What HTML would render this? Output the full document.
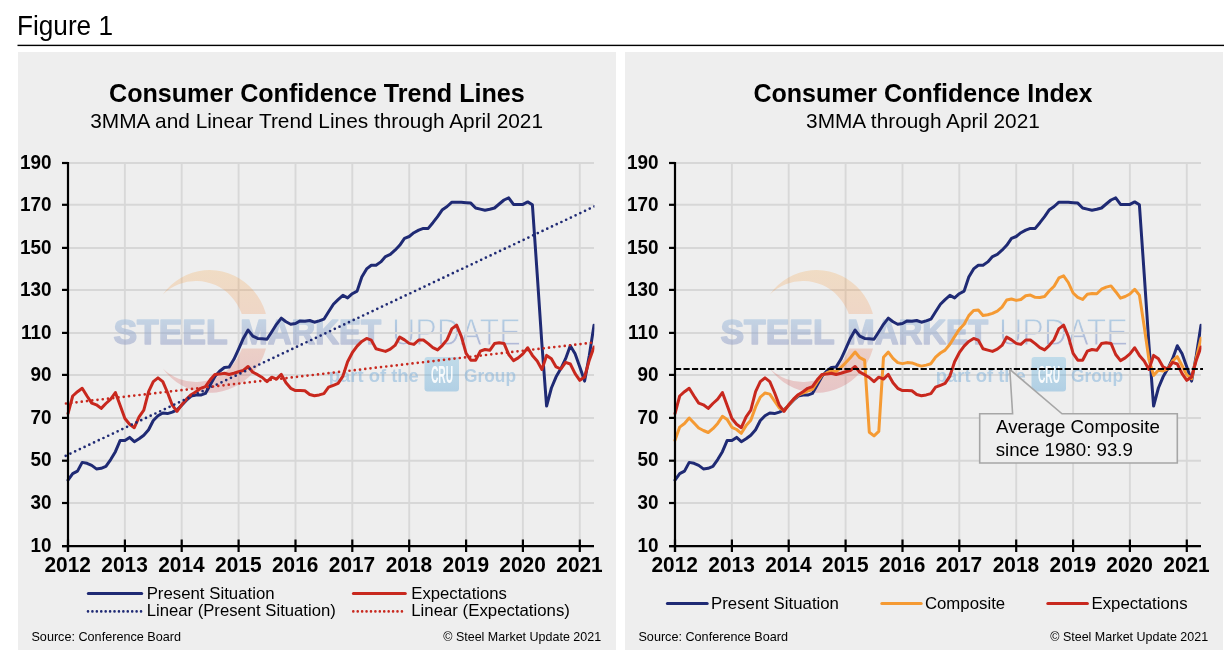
<!DOCTYPE html>
<html lang="en"><head><meta charset="utf-8"><title>Figure 1 - Consumer Confidence</title>
<style>html,body{margin:0;padding:0;background:#fff;}body{width:1230px;height:658px;overflow:hidden;}svg{display:block;}text{font-family:"Liberation Sans", Arial, sans-serif;}</style></head><body>
<svg width="1230" height="658" viewBox="0 0 1230 658">
<defs>
<linearGradient id="gs" x1="0" y1="0" x2="0" y2="1"><stop offset="0" stop-color="#f7941d"/><stop offset="0.45" stop-color="#f0702a"/><stop offset="1" stop-color="#c8202a"/></linearGradient>
<linearGradient id="gu" x1="0" y1="0" x2="0" y2="1"><stop offset="0.1" stop-color="#8fc0e0"/><stop offset="0.95" stop-color="#8a8fc4"/></linearGradient>
<linearGradient id="gc" x1="0" y1="0" x2="0" y2="1"><stop offset="0" stop-color="#7fc0e2"/><stop offset="1" stop-color="#5aa4d6"/></linearGradient>
<linearGradient id="gt" x1="0" y1="0" x2="0" y2="1"><stop offset="0.1" stop-color="#9cbfdf"/><stop offset="0.95" stop-color="#8e95c0"/></linearGradient>
<clipPath id="pc"><rect x="60" y="150" width="534.4" height="400"/></clipPath>
<clipPath id="cc"><rect x="150" y="260" width="130" height="54.1"/><rect x="150" y="348.6" width="130" height="60"/></clipPath>
</defs>
<text transform="translate(16.95,35.00) scale(0.9527,1)" font-size="27.5">Figure 1</text>
<rect x="17.5" y="44.7" width="1206.5" height="1.4" fill="#000"/>
<rect x="18" y="52" width="598" height="598" fill="#eeeeee"/>
<rect x="625" y="52" width="598" height="598" fill="#eeeeee"/>
<g id="left">
<text transform="translate(391.88,344.90) scale(0.8708,1)" font-size="37.2" fill="url(#gu)" fill-opacity="0.62" stroke="#eeeeee" stroke-width="1">UPDATE</text>
<g>
<line x1="124.9" y1="163" x2="124.9" y2="546" stroke="#d8d8d8" stroke-width="1.9"/>
<line x1="181.7" y1="163" x2="181.7" y2="546" stroke="#d8d8d8" stroke-width="1.9"/>
<line x1="238.6" y1="163" x2="238.6" y2="546" stroke="#d8d8d8" stroke-width="1.9"/>
<line x1="295.5" y1="163" x2="295.5" y2="546" stroke="#d8d8d8" stroke-width="1.9"/>
<line x1="352.3" y1="163" x2="352.3" y2="546" stroke="#d8d8d8" stroke-width="1.9"/>
<line x1="409.2" y1="163" x2="409.2" y2="546" stroke="#d8d8d8" stroke-width="1.9"/>
<line x1="466.1" y1="163" x2="466.1" y2="546" stroke="#d8d8d8" stroke-width="1.9"/>
<line x1="522.9" y1="163" x2="522.9" y2="546" stroke="#d8d8d8" stroke-width="1.9"/>
<line x1="579.8" y1="163" x2="579.8" y2="546" stroke="#d8d8d8" stroke-width="1.9"/>
<line x1="68" y1="503.0" x2="594" y2="503.0" stroke="#d7d7d7" stroke-width="2"/>
<line x1="68" y1="460.7" x2="594" y2="460.7" stroke="#d7d7d7" stroke-width="2"/>
<line x1="68" y1="417.9" x2="594" y2="417.9" stroke="#d7d7d7" stroke-width="2"/>
<line x1="68" y1="374.9" x2="594" y2="374.9" stroke="#d7d7d7" stroke-width="2"/>
<line x1="68" y1="332.9" x2="594" y2="332.9" stroke="#d7d7d7" stroke-width="2"/>
<line x1="68" y1="289.9" x2="594" y2="289.9" stroke="#d7d7d7" stroke-width="2"/>
<line x1="68" y1="247.9" x2="594" y2="247.9" stroke="#d7d7d7" stroke-width="2"/>
<line x1="68" y1="204.8" x2="594" y2="204.8" stroke="#d7d7d7" stroke-width="2"/>
<line x1="68" y1="163.0" x2="594" y2="163.0" stroke="#d7d7d7" stroke-width="2"/>
</g>
<g>
<path clip-path="url(#cc)" d="M162.8,294.4 A58.7,61.4 0 1 1 162.8,368.4 A48.75,50.5 0 1 0 162.8,294.4 Z" fill="url(#gs)" opacity="0.2"/>
<text transform="translate(113.45,344.10) scale(0.9895,1)" font-size="35.8" font-weight="bold" fill="url(#gt)" stroke="url(#gt)" stroke-width="1.6" stroke-linejoin="round" opacity="0.5">STEEL</text>
<text transform="translate(240.24,344.10) scale(0.9195,1)" font-size="35.8" font-weight="bold" fill="url(#gt)" stroke="url(#gt)" stroke-width="1.6" stroke-linejoin="round" opacity="0.5">MARKET</text>
<text transform="translate(328.84,381.50) scale(1.0522,1)" font-size="17.5" font-weight="bold" fill="#6fa8d8" opacity="0.44">part of the</text>
<rect x="424.5" y="357" width="34.5" height="34.5" rx="3" fill="url(#gc)" opacity="0.41"/>
<text transform="translate(430.90,382.50) scale(0.4394,1)" font-size="23.3" font-weight="bold" fill="#ffffff" opacity="0.9">CRU</text>
<text transform="translate(464.01,381.50) scale(0.9902,1)" font-size="17.5" font-weight="bold" fill="#6fa8d8" opacity="0.44">Group</text>
</g>
<text transform="translate(109.00,101.60) scale(1.0050,1)" font-size="25" font-weight="bold">Consumer Confidence Trend Lines</text>
<text transform="translate(90.29,127.60) scale(1.0167,1)" font-size="20.5">3MMA and Linear Trend Lines through April 2021</text>
<polyline points="68.0,480.2 72.7,473.6 77.5,471.1 82.2,462.4 87.0,463.3 91.7,465.4 96.4,468.9 101.2,468.3 105.9,466.4 110.7,459.6 115.4,451.7 120.1,440.6 124.9,440.4 129.6,437.4 134.3,441.7 139.1,438.7 143.8,435.2 148.6,429.7 153.3,420.5 158.0,415.8 162.8,413.0 167.5,413.6 172.3,412.1 177.0,409.9 181.7,405.2 186.5,400.1 191.2,396.0 196.0,395.1 200.7,395.1 205.4,393.4 210.2,385.0 214.9,376.6 219.6,371.3 224.4,367.5 229.1,367.1 233.9,359.3 238.6,349.1 243.3,338.4 248.1,330.1 252.8,336.1 257.6,338.4 262.3,338.8 267.0,339.2 271.8,331.8 276.5,324.3 281.3,318.1 286.0,321.8 290.7,324.3 295.5,323.5 300.2,320.9 304.9,321.3 309.7,320.5 314.4,322.2 319.2,320.9 323.9,319.2 328.6,311.7 333.4,304.3 338.1,299.6 342.9,295.4 347.6,297.9 352.3,293.7 357.1,291.1 361.8,277.0 366.6,268.9 371.3,265.3 376.0,265.3 380.8,261.9 385.5,256.6 390.3,254.4 395.0,250.2 399.7,245.3 404.5,238.4 409.2,236.5 413.9,232.7 418.7,230.1 423.4,228.4 428.2,228.4 432.9,222.7 437.6,216.7 442.4,209.7 447.1,206.5 451.9,202.2 456.6,202.2 461.3,202.2 466.1,202.7 470.8,203.1 475.6,208.0 480.3,209.1 485.0,210.2 489.8,209.3 494.5,208.0 499.2,204.0 504.0,200.0 508.7,197.9 513.5,204.4 518.2,204.4 522.9,204.4 527.7,201.9 532.4,204.8 537.2,274.1 541.9,344.0 546.6,406.1 551.4,388.0 556.1,376.8 560.9,368.6 565.6,358.7 570.3,345.7 575.1,353.7 579.8,366.9 584.6,381.1 589.3,355.4 594.0,325.2" fill="none" stroke="#1f2a74" stroke-width="3" stroke-linejoin="round" stroke-linecap="round" clip-path="url(#pc)"/>
<polyline points="68.0,413.6 72.7,396.0 77.5,391.7 82.2,388.3 87.0,396.0 91.7,403.1 96.4,404.8 101.2,408.4 105.9,403.5 110.7,399.2 115.4,392.5 120.1,405.2 124.9,418.5 129.6,424.3 134.3,427.7 139.1,416.8 143.8,410.2 148.6,391.7 153.3,381.6 158.0,377.9 162.8,381.6 167.5,392.5 172.3,405.2 177.0,411.4 181.7,404.8 186.5,399.2 191.2,394.7 196.0,391.7 200.7,388.3 205.4,386.7 210.2,379.8 214.9,374.5 219.6,374.1 224.4,373.2 229.1,374.5 233.9,373.2 238.6,371.8 243.3,370.5 248.1,366.5 252.8,372.2 257.6,374.7 262.3,377.5 267.0,381.7 271.8,377.2 276.5,379.1 281.3,374.4 286.0,382.7 290.7,388.3 295.5,390.6 300.2,390.6 304.9,390.8 309.7,394.5 314.4,395.7 319.2,394.9 323.9,393.6 328.6,387.2 333.4,385.3 338.1,383.4 342.9,376.1 347.6,361.8 352.3,352.7 357.1,346.1 361.8,341.4 366.6,338.4 371.3,340.1 376.0,348.8 380.8,350.1 385.5,351.4 390.3,349.1 395.0,345.4 399.7,337.1 404.5,339.9 409.2,343.4 413.9,344.4 418.7,340.0 423.4,340.0 428.2,343.6 432.9,347.6 437.6,349.9 442.4,345.3 447.1,339.6 451.9,328.6 456.6,325.2 461.3,336.3 466.1,353.3 470.8,360.2 475.6,360.2 480.3,351.2 485.0,349.5 489.8,350.3 494.5,343.6 499.2,342.8 504.0,343.4 508.7,354.5 513.5,360.6 518.2,357.9 522.9,353.9 527.7,347.8 532.4,355.4 537.2,361.0 541.9,369.4 546.6,355.4 551.4,358.7 556.1,366.9 560.9,369.0 565.6,362.3 570.3,364.0 575.1,373.6 579.8,380.3 584.6,377.0 589.3,360.2 594.0,347.0" fill="none" stroke="#c8281e" stroke-width="3" stroke-linejoin="round" stroke-linecap="round" clip-path="url(#pc)"/>
<line x1="65.7" y1="455.8" x2="597" y2="205.2" stroke="#1f2a74" stroke-width="2.7" stroke-linecap="round" stroke-dasharray="0 5.22" clip-path="url(#pc)"/>
<line x1="66" y1="403.5" x2="594" y2="342.5" stroke="#c8281e" stroke-width="2.7" stroke-linecap="round" stroke-dasharray="0 5.285"/>
<g>
<line x1="68" y1="162" x2="68" y2="552" stroke="#000" stroke-width="2.2"/>
<line x1="62" y1="546.1" x2="594" y2="546.1" stroke="#000" stroke-width="2.2"/>
<line x1="62" y1="546.1" x2="68" y2="546.1" stroke="#000" stroke-width="2.2"/>
<text transform="translate(51.5,551.8) scale(0.955,1)" font-size="19.8" font-weight="bold" text-anchor="end">10</text>
<line x1="62" y1="503.0" x2="68" y2="503.0" stroke="#000" stroke-width="2.2"/>
<text transform="translate(51.5,508.7) scale(0.955,1)" font-size="19.8" font-weight="bold" text-anchor="end">30</text>
<line x1="62" y1="460.7" x2="68" y2="460.7" stroke="#000" stroke-width="2.2"/>
<text transform="translate(51.5,466.4) scale(0.955,1)" font-size="19.8" font-weight="bold" text-anchor="end">50</text>
<line x1="62" y1="417.9" x2="68" y2="417.9" stroke="#000" stroke-width="2.2"/>
<text transform="translate(51.5,423.6) scale(0.955,1)" font-size="19.8" font-weight="bold" text-anchor="end">70</text>
<line x1="62" y1="374.9" x2="68" y2="374.9" stroke="#000" stroke-width="2.2"/>
<text transform="translate(51.5,380.6) scale(0.955,1)" font-size="19.8" font-weight="bold" text-anchor="end">90</text>
<line x1="62" y1="332.9" x2="68" y2="332.9" stroke="#000" stroke-width="2.2"/>
<text transform="translate(51.5,338.6) scale(0.955,1)" font-size="19.8" font-weight="bold" text-anchor="end">110</text>
<line x1="62" y1="289.9" x2="68" y2="289.9" stroke="#000" stroke-width="2.2"/>
<text transform="translate(51.5,295.6) scale(0.955,1)" font-size="19.8" font-weight="bold" text-anchor="end">130</text>
<line x1="62" y1="247.9" x2="68" y2="247.9" stroke="#000" stroke-width="2.2"/>
<text transform="translate(51.5,253.6) scale(0.955,1)" font-size="19.8" font-weight="bold" text-anchor="end">150</text>
<line x1="62" y1="204.8" x2="68" y2="204.8" stroke="#000" stroke-width="2.2"/>
<text transform="translate(51.5,210.5) scale(0.955,1)" font-size="19.8" font-weight="bold" text-anchor="end">170</text>
<line x1="62" y1="163.0" x2="68" y2="163.0" stroke="#000" stroke-width="2.2"/>
<text transform="translate(51.5,168.7) scale(0.955,1)" font-size="19.8" font-weight="bold" text-anchor="end">190</text>
<line x1="68.0" y1="539.5" x2="68.0" y2="552" stroke="#000" stroke-width="2.2"/>
<text transform="translate(67.7,572) scale(0.972,1)" font-size="21.5" font-weight="bold" text-anchor="middle">2012</text>
<line x1="124.9" y1="539.5" x2="124.9" y2="552" stroke="#000" stroke-width="2.2"/>
<text transform="translate(124.6,572) scale(0.972,1)" font-size="21.5" font-weight="bold" text-anchor="middle">2013</text>
<line x1="181.7" y1="539.5" x2="181.7" y2="552" stroke="#000" stroke-width="2.2"/>
<text transform="translate(181.4,572) scale(0.972,1)" font-size="21.5" font-weight="bold" text-anchor="middle">2014</text>
<line x1="238.6" y1="539.5" x2="238.6" y2="552" stroke="#000" stroke-width="2.2"/>
<text transform="translate(238.3,572) scale(0.972,1)" font-size="21.5" font-weight="bold" text-anchor="middle">2015</text>
<line x1="295.5" y1="539.5" x2="295.5" y2="552" stroke="#000" stroke-width="2.2"/>
<text transform="translate(295.2,572) scale(0.972,1)" font-size="21.5" font-weight="bold" text-anchor="middle">2016</text>
<line x1="352.3" y1="539.5" x2="352.3" y2="552" stroke="#000" stroke-width="2.2"/>
<text transform="translate(352.0,572) scale(0.972,1)" font-size="21.5" font-weight="bold" text-anchor="middle">2017</text>
<line x1="409.2" y1="539.5" x2="409.2" y2="552" stroke="#000" stroke-width="2.2"/>
<text transform="translate(408.9,572) scale(0.972,1)" font-size="21.5" font-weight="bold" text-anchor="middle">2018</text>
<line x1="466.1" y1="539.5" x2="466.1" y2="552" stroke="#000" stroke-width="2.2"/>
<text transform="translate(465.8,572) scale(0.972,1)" font-size="21.5" font-weight="bold" text-anchor="middle">2019</text>
<line x1="522.9" y1="539.5" x2="522.9" y2="552" stroke="#000" stroke-width="2.2"/>
<text transform="translate(522.6,572) scale(0.972,1)" font-size="21.5" font-weight="bold" text-anchor="middle">2020</text>
<line x1="579.8" y1="539.5" x2="579.8" y2="552" stroke="#000" stroke-width="2.2"/>
<text transform="translate(579.5,572) scale(0.972,1)" font-size="21.5" font-weight="bold" text-anchor="middle">2021</text>
</g>
<line x1="88.3" y1="593.4" x2="141.7" y2="593.4" stroke="#1f2a74" stroke-width="3" stroke-linecap="round"/>
<text transform="translate(146.66,598.60) scale(1.0306,1)" font-size="16.3">Present Situation</text>
<text transform="translate(146.67,616.00) scale(1.0241,1)" font-size="16.3">Linear (Present Situation)</text>
<text transform="translate(411.27,598.60) scale(1.0254,1)" font-size="16.3">Expectations</text>
<text transform="translate(411.26,616.00) scale(1.0303,1)" font-size="16.3">Linear (Expectations)</text>
<text transform="translate(31.43,641.00) scale(0.9433,1)" font-size="13.4">Source: Conference Board</text>
<text transform="translate(443.21,641.00) scale(0.9333,1)" font-size="13.4">© Steel Market Update 2021</text>
<line x1="88" y1="611.4" x2="141.5" y2="611.4" stroke="#1f2a74" stroke-width="2.6" stroke-linecap="round" stroke-dasharray="0 4.42"/>
<line x1="353.4" y1="593.4" x2="405.3" y2="593.4" stroke="#c8281e" stroke-width="3" stroke-linecap="round"/>
<line x1="353.3" y1="611.4" x2="402.2" y2="611.4" stroke="#c8281e" stroke-width="2.6" stroke-linecap="round" stroke-dasharray="0 4.42"/>
</g>
<g id="right">
<g transform="translate(607,0)">
<text transform="translate(391.88,344.90) scale(0.8708,1)" font-size="37.2" fill="url(#gu)" fill-opacity="0.62" stroke="#eeeeee" stroke-width="1">UPDATE</text>
<g>
<line x1="124.9" y1="163" x2="124.9" y2="546" stroke="#d8d8d8" stroke-width="1.9"/>
<line x1="181.7" y1="163" x2="181.7" y2="546" stroke="#d8d8d8" stroke-width="1.9"/>
<line x1="238.6" y1="163" x2="238.6" y2="546" stroke="#d8d8d8" stroke-width="1.9"/>
<line x1="295.5" y1="163" x2="295.5" y2="546" stroke="#d8d8d8" stroke-width="1.9"/>
<line x1="352.3" y1="163" x2="352.3" y2="546" stroke="#d8d8d8" stroke-width="1.9"/>
<line x1="409.2" y1="163" x2="409.2" y2="546" stroke="#d8d8d8" stroke-width="1.9"/>
<line x1="466.1" y1="163" x2="466.1" y2="546" stroke="#d8d8d8" stroke-width="1.9"/>
<line x1="522.9" y1="163" x2="522.9" y2="546" stroke="#d8d8d8" stroke-width="1.9"/>
<line x1="579.8" y1="163" x2="579.8" y2="546" stroke="#d8d8d8" stroke-width="1.9"/>
<line x1="68" y1="503.0" x2="594" y2="503.0" stroke="#d7d7d7" stroke-width="2"/>
<line x1="68" y1="460.7" x2="594" y2="460.7" stroke="#d7d7d7" stroke-width="2"/>
<line x1="68" y1="417.9" x2="594" y2="417.9" stroke="#d7d7d7" stroke-width="2"/>
<line x1="68" y1="374.9" x2="594" y2="374.9" stroke="#d7d7d7" stroke-width="2"/>
<line x1="68" y1="332.9" x2="594" y2="332.9" stroke="#d7d7d7" stroke-width="2"/>
<line x1="68" y1="289.9" x2="594" y2="289.9" stroke="#d7d7d7" stroke-width="2"/>
<line x1="68" y1="247.9" x2="594" y2="247.9" stroke="#d7d7d7" stroke-width="2"/>
<line x1="68" y1="204.8" x2="594" y2="204.8" stroke="#d7d7d7" stroke-width="2"/>
<line x1="68" y1="163.0" x2="594" y2="163.0" stroke="#d7d7d7" stroke-width="2"/>
</g>
<g>
<path clip-path="url(#cc)" d="M162.8,294.4 A58.7,61.4 0 1 1 162.8,368.4 A48.75,50.5 0 1 0 162.8,294.4 Z" fill="url(#gs)" opacity="0.2"/>
<text transform="translate(113.45,344.10) scale(0.9895,1)" font-size="35.8" font-weight="bold" fill="url(#gt)" stroke="url(#gt)" stroke-width="1.6" stroke-linejoin="round" opacity="0.5">STEEL</text>
<text transform="translate(240.24,344.10) scale(0.9195,1)" font-size="35.8" font-weight="bold" fill="url(#gt)" stroke="url(#gt)" stroke-width="1.6" stroke-linejoin="round" opacity="0.5">MARKET</text>
<text transform="translate(328.84,381.50) scale(1.0522,1)" font-size="17.5" font-weight="bold" fill="#6fa8d8" opacity="0.44">part of the</text>
<rect x="424.5" y="357" width="34.5" height="34.5" rx="3" fill="url(#gc)" opacity="0.41"/>
<text transform="translate(430.90,382.50) scale(0.4394,1)" font-size="23.3" font-weight="bold" fill="#ffffff" opacity="0.9">CRU</text>
<text transform="translate(464.01,381.50) scale(0.9902,1)" font-size="17.5" font-weight="bold" fill="#6fa8d8" opacity="0.44">Group</text>
</g>
<polyline points="68.0,480.2 72.7,473.6 77.5,471.1 82.2,462.4 87.0,463.3 91.7,465.4 96.4,468.9 101.2,468.3 105.9,466.4 110.7,459.6 115.4,451.7 120.1,440.6 124.9,440.4 129.6,437.4 134.3,441.7 139.1,438.7 143.8,435.2 148.6,429.7 153.3,420.5 158.0,415.8 162.8,413.0 167.5,413.6 172.3,412.1 177.0,409.9 181.7,405.2 186.5,400.1 191.2,396.0 196.0,395.1 200.7,395.1 205.4,393.4 210.2,385.0 214.9,376.6 219.6,371.3 224.4,367.5 229.1,367.1 233.9,359.3 238.6,349.1 243.3,338.4 248.1,330.1 252.8,336.1 257.6,338.4 262.3,338.8 267.0,339.2 271.8,331.8 276.5,324.3 281.3,318.1 286.0,321.8 290.7,324.3 295.5,323.5 300.2,320.9 304.9,321.3 309.7,320.5 314.4,322.2 319.2,320.9 323.9,319.2 328.6,311.7 333.4,304.3 338.1,299.6 342.9,295.4 347.6,297.9 352.3,293.7 357.1,291.1 361.8,277.0 366.6,268.9 371.3,265.3 376.0,265.3 380.8,261.9 385.5,256.6 390.3,254.4 395.0,250.2 399.7,245.3 404.5,238.4 409.2,236.5 413.9,232.7 418.7,230.1 423.4,228.4 428.2,228.4 432.9,222.7 437.6,216.7 442.4,209.7 447.1,206.5 451.9,202.2 456.6,202.2 461.3,202.2 466.1,202.7 470.8,203.1 475.6,208.0 480.3,209.1 485.0,210.2 489.8,209.3 494.5,208.0 499.2,204.0 504.0,200.0 508.7,197.9 513.5,204.4 518.2,204.4 522.9,204.4 527.7,201.9 532.4,204.8 537.2,274.1 541.9,344.0 546.6,406.1 551.4,388.0 556.1,376.8 560.9,368.6 565.6,358.7 570.3,345.7 575.1,353.7 579.8,366.9 584.6,381.1 589.3,355.4 594.0,325.2" fill="none" stroke="#1f2a74" stroke-width="3" stroke-linejoin="round" stroke-linecap="round" clip-path="url(#pc)"/>
<polyline points="68.0,440.3 72.7,427.1 77.5,423.5 82.2,418.0 87.0,423.0 91.7,428.0 96.4,430.5 101.2,432.5 105.9,428.7 110.7,423.4 115.4,416.3 120.1,419.4 124.9,427.3 129.6,429.5 134.3,433.3 139.1,425.6 143.8,420.2 148.6,406.9 153.3,397.1 158.0,393.0 162.8,394.1 167.5,401.0 172.3,408.0 177.0,410.8 181.7,405.0 186.5,399.5 191.2,395.2 196.0,393.0 200.7,391.0 205.4,389.4 210.2,381.9 214.9,375.3 219.6,373.0 224.4,371.0 229.1,371.5 233.9,367.6 238.6,362.7 243.3,357.7 248.1,352.0 252.8,357.7 257.6,360.2 262.3,432.2 267.0,435.9 271.8,431.4 276.5,357.2 281.3,352.1 286.0,358.3 290.7,362.6 295.5,363.6 300.2,362.6 304.9,362.9 309.7,364.7 314.4,366.1 319.2,365.1 323.9,363.7 328.6,357.1 333.4,353.0 338.1,350.1 342.9,344.2 347.6,336.6 352.3,329.4 357.1,324.3 361.8,315.6 366.6,310.5 371.3,310.0 376.0,315.4 380.8,314.8 385.5,313.4 390.3,311.1 395.0,307.1 399.7,300.0 404.5,299.0 409.2,300.4 413.9,299.5 418.7,295.8 423.4,295.1 428.2,297.3 432.9,297.5 437.6,296.5 442.4,290.8 447.1,286.2 451.9,277.9 456.6,275.9 461.3,282.5 466.1,293.0 470.8,297.4 475.6,299.4 480.3,294.2 485.0,293.6 489.8,293.8 494.5,289.2 499.2,287.1 504.0,285.9 508.7,291.7 513.5,298.2 518.2,296.5 522.9,294.0 527.7,289.3 532.4,295.1 537.2,326.5 541.9,359.3 546.6,375.4 551.4,370.3 556.1,370.9 560.9,368.9 565.6,360.9 570.3,356.7 575.1,365.7 579.8,374.9 584.6,378.7 589.3,358.3 594.0,338.3" fill="none" stroke="#f59a33" stroke-width="3" stroke-linejoin="round" stroke-linecap="round" clip-path="url(#pc)"/>
<polyline points="68.0,413.6 72.7,396.0 77.5,391.7 82.2,388.3 87.0,396.0 91.7,403.1 96.4,404.8 101.2,408.4 105.9,403.5 110.7,399.2 115.4,392.5 120.1,405.2 124.9,418.5 129.6,424.3 134.3,427.7 139.1,416.8 143.8,410.2 148.6,391.7 153.3,381.6 158.0,377.9 162.8,381.6 167.5,392.5 172.3,405.2 177.0,411.4 181.7,404.8 186.5,399.2 191.2,394.7 196.0,391.7 200.7,388.3 205.4,386.7 210.2,379.8 214.9,374.5 219.6,374.1 224.4,373.2 229.1,374.5 233.9,373.2 238.6,371.8 243.3,370.5 248.1,366.5 252.8,372.2 257.6,374.7 262.3,377.5 267.0,381.7 271.8,377.2 276.5,379.1 281.3,374.4 286.0,382.7 290.7,388.3 295.5,390.6 300.2,390.6 304.9,390.8 309.7,394.5 314.4,395.7 319.2,394.9 323.9,393.6 328.6,387.2 333.4,385.3 338.1,383.4 342.9,376.1 347.6,361.8 352.3,352.7 357.1,346.1 361.8,341.4 366.6,338.4 371.3,340.1 376.0,348.8 380.8,350.1 385.5,351.4 390.3,349.1 395.0,345.4 399.7,337.1 404.5,339.9 409.2,343.4 413.9,344.4 418.7,340.0 423.4,340.0 428.2,343.6 432.9,347.6 437.6,349.9 442.4,345.3 447.1,339.6 451.9,328.6 456.6,325.2 461.3,336.3 466.1,353.3 470.8,360.2 475.6,360.2 480.3,351.2 485.0,349.5 489.8,350.3 494.5,343.6 499.2,342.8 504.0,343.4 508.7,354.5 513.5,360.6 518.2,357.9 522.9,353.9 527.7,347.8 532.4,355.4 537.2,361.0 541.9,369.4 546.6,355.4 551.4,358.7 556.1,366.9 560.9,369.0 565.6,362.3 570.3,364.0 575.1,373.6 579.8,380.3 584.6,377.0 589.3,360.2 594.0,347.0" fill="none" stroke="#c8281e" stroke-width="3" stroke-linejoin="round" stroke-linecap="round" clip-path="url(#pc)"/>
<line x1="68" y1="368.9" x2="596" y2="368.9" stroke="#000" stroke-width="2" stroke-dasharray="6.2 2.27"/>
<g>
<line x1="68" y1="162" x2="68" y2="552" stroke="#000" stroke-width="2.2"/>
<line x1="62" y1="546.1" x2="594" y2="546.1" stroke="#000" stroke-width="2.2"/>
<line x1="62" y1="546.1" x2="68" y2="546.1" stroke="#000" stroke-width="2.2"/>
<text transform="translate(51.5,551.8) scale(0.955,1)" font-size="19.8" font-weight="bold" text-anchor="end">10</text>
<line x1="62" y1="503.0" x2="68" y2="503.0" stroke="#000" stroke-width="2.2"/>
<text transform="translate(51.5,508.7) scale(0.955,1)" font-size="19.8" font-weight="bold" text-anchor="end">30</text>
<line x1="62" y1="460.7" x2="68" y2="460.7" stroke="#000" stroke-width="2.2"/>
<text transform="translate(51.5,466.4) scale(0.955,1)" font-size="19.8" font-weight="bold" text-anchor="end">50</text>
<line x1="62" y1="417.9" x2="68" y2="417.9" stroke="#000" stroke-width="2.2"/>
<text transform="translate(51.5,423.6) scale(0.955,1)" font-size="19.8" font-weight="bold" text-anchor="end">70</text>
<line x1="62" y1="374.9" x2="68" y2="374.9" stroke="#000" stroke-width="2.2"/>
<text transform="translate(51.5,380.6) scale(0.955,1)" font-size="19.8" font-weight="bold" text-anchor="end">90</text>
<line x1="62" y1="332.9" x2="68" y2="332.9" stroke="#000" stroke-width="2.2"/>
<text transform="translate(51.5,338.6) scale(0.955,1)" font-size="19.8" font-weight="bold" text-anchor="end">110</text>
<line x1="62" y1="289.9" x2="68" y2="289.9" stroke="#000" stroke-width="2.2"/>
<text transform="translate(51.5,295.6) scale(0.955,1)" font-size="19.8" font-weight="bold" text-anchor="end">130</text>
<line x1="62" y1="247.9" x2="68" y2="247.9" stroke="#000" stroke-width="2.2"/>
<text transform="translate(51.5,253.6) scale(0.955,1)" font-size="19.8" font-weight="bold" text-anchor="end">150</text>
<line x1="62" y1="204.8" x2="68" y2="204.8" stroke="#000" stroke-width="2.2"/>
<text transform="translate(51.5,210.5) scale(0.955,1)" font-size="19.8" font-weight="bold" text-anchor="end">170</text>
<line x1="62" y1="163.0" x2="68" y2="163.0" stroke="#000" stroke-width="2.2"/>
<text transform="translate(51.5,168.7) scale(0.955,1)" font-size="19.8" font-weight="bold" text-anchor="end">190</text>
<line x1="68.0" y1="539.5" x2="68.0" y2="552" stroke="#000" stroke-width="2.2"/>
<text transform="translate(67.7,572) scale(0.972,1)" font-size="21.5" font-weight="bold" text-anchor="middle">2012</text>
<line x1="124.9" y1="539.5" x2="124.9" y2="552" stroke="#000" stroke-width="2.2"/>
<text transform="translate(124.6,572) scale(0.972,1)" font-size="21.5" font-weight="bold" text-anchor="middle">2013</text>
<line x1="181.7" y1="539.5" x2="181.7" y2="552" stroke="#000" stroke-width="2.2"/>
<text transform="translate(181.4,572) scale(0.972,1)" font-size="21.5" font-weight="bold" text-anchor="middle">2014</text>
<line x1="238.6" y1="539.5" x2="238.6" y2="552" stroke="#000" stroke-width="2.2"/>
<text transform="translate(238.3,572) scale(0.972,1)" font-size="21.5" font-weight="bold" text-anchor="middle">2015</text>
<line x1="295.5" y1="539.5" x2="295.5" y2="552" stroke="#000" stroke-width="2.2"/>
<text transform="translate(295.2,572) scale(0.972,1)" font-size="21.5" font-weight="bold" text-anchor="middle">2016</text>
<line x1="352.3" y1="539.5" x2="352.3" y2="552" stroke="#000" stroke-width="2.2"/>
<text transform="translate(352.0,572) scale(0.972,1)" font-size="21.5" font-weight="bold" text-anchor="middle">2017</text>
<line x1="409.2" y1="539.5" x2="409.2" y2="552" stroke="#000" stroke-width="2.2"/>
<text transform="translate(408.9,572) scale(0.972,1)" font-size="21.5" font-weight="bold" text-anchor="middle">2018</text>
<line x1="466.1" y1="539.5" x2="466.1" y2="552" stroke="#000" stroke-width="2.2"/>
<text transform="translate(465.8,572) scale(0.972,1)" font-size="21.5" font-weight="bold" text-anchor="middle">2019</text>
<line x1="522.9" y1="539.5" x2="522.9" y2="552" stroke="#000" stroke-width="2.2"/>
<text transform="translate(522.6,572) scale(0.972,1)" font-size="21.5" font-weight="bold" text-anchor="middle">2020</text>
<line x1="579.8" y1="539.5" x2="579.8" y2="552" stroke="#000" stroke-width="2.2"/>
<text transform="translate(579.5,572) scale(0.972,1)" font-size="21.5" font-weight="bold" text-anchor="middle">2021</text>
</g>
</g>
<text transform="translate(753.40,101.60) scale(1.0011,1)" font-size="25" font-weight="bold">Consumer Confidence Index</text>
<text transform="translate(806.09,127.60) scale(1.0158,1)" font-size="20.5">3MMA through April 2021</text>
<path d="M979.7,413.8 H1012.6 L1009.8,369.4 L1062,413.8 H1177.3 V463 H979.7 Z" fill="#eeeeee" stroke="#a6a6a6" stroke-width="1.6" stroke-linejoin="miter"/>
<text transform="translate(996.10,433.20) scale(1.0685,1)" font-size="17.5">Average Composite</text>
<text transform="translate(995.67,456.30) scale(1.0691,1)" font-size="17.5">since 1980: 93.9</text>
<text transform="translate(711.06,609.00) scale(1.0306,1)" font-size="16.3">Present Situation</text>
<text transform="translate(924.88,609.00) scale(1.0308,1)" font-size="16.3">Composite</text>
<text transform="translate(1091.46,609.00) scale(1.0298,1)" font-size="16.3">Expectations</text>
<text transform="translate(638.43,641.00) scale(0.9433,1)" font-size="13.4">Source: Conference Board</text>
<text transform="translate(1050.21,641.00) scale(0.9333,1)" font-size="13.4">© Steel Market Update 2021</text>
<line x1="667.4" y1="603.4" x2="707.2" y2="603.4" stroke="#1f2a74" stroke-width="3" stroke-linecap="round"/>
<line x1="881.8" y1="603.4" x2="921.2" y2="603.4" stroke="#f59a33" stroke-width="3" stroke-linecap="round"/>
<line x1="1047.8" y1="603.4" x2="1087.4" y2="603.4" stroke="#c8281e" stroke-width="3" stroke-linecap="round"/>
</g>
</svg></body></html>
